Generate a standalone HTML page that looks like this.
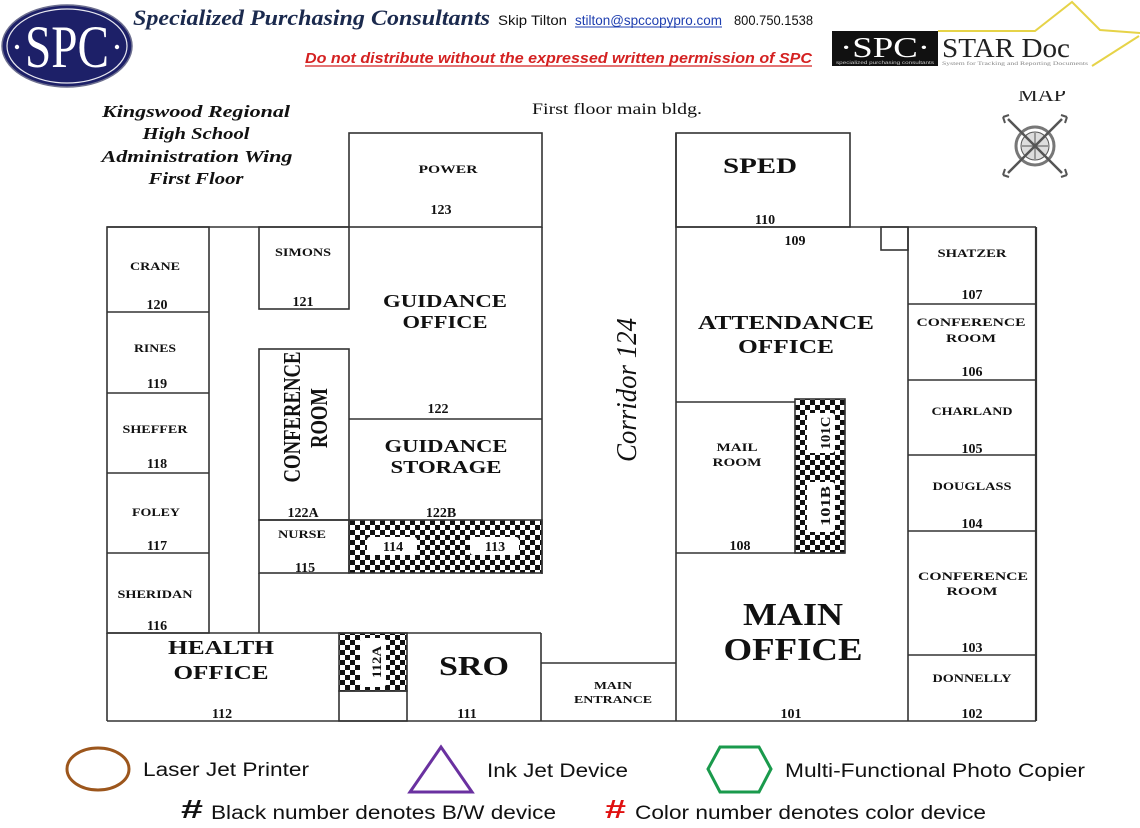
<!DOCTYPE html>
<html><head><meta charset="utf-8"><style>
html,body{margin:0;padding:0;background:#fff;}
svg{display:block;}
.b{font-family:"Liberation Serif",serif;font-weight:bold;fill:#111;text-anchor:middle;}
.s{font-family:"Liberation Sans",sans-serif;fill:#111;}
</style></head><body>
<svg width="1140" height="828" viewBox="0 0 1140 828" xmlns="http://www.w3.org/2000/svg">
<defs>
<pattern id="ck" width="10" height="10" patternUnits="userSpaceOnUse">
<rect width="10" height="10" fill="#fff"/><rect width="5" height="5" fill="#111"/><rect x="5" y="5" width="5" height="5" fill="#111"/>
</pattern>
</defs>

<!-- HEADER -->
<ellipse cx="67" cy="46" rx="65" ry="41" fill="#1d2068" stroke="#6d6f8f" stroke-width="1.5"/>
<ellipse cx="67" cy="46" rx="60" ry="37" fill="none" stroke="#e8e8f0" stroke-width="1.2"/>
<text x="67" y="67" font-family="Liberation Serif,serif" font-size="60" fill="#fff" text-anchor="middle" textLength="84" lengthAdjust="spacingAndGlyphs">SPC</text>
<circle cx="17" cy="47" r="2.2" fill="#fff"/><circle cx="117" cy="47" r="2.2" fill="#fff"/>

<text x="133" y="25" font-family="Liberation Serif,serif" font-style="italic" font-weight="bold" font-size="22" fill="#1b2a4e" textLength="357" lengthAdjust="spacingAndGlyphs">Specialized Purchasing Consultants</text>
<text x="498" y="25" class="s" font-size="14" textLength="69" lengthAdjust="spacingAndGlyphs">Skip Tilton</text>
<text x="575" y="25" class="s" font-size="14" style="fill:#1f3fb0" textLength="147" lengthAdjust="spacingAndGlyphs">stilton@spccopypro.com</text>
<line x1="575" y1="27" x2="722" y2="27" stroke="#1f3fb0" stroke-width="1"/>
<text x="734" y="25" class="s" font-size="14" textLength="79" lengthAdjust="spacingAndGlyphs">800.750.1538</text>
<text x="305" y="63" font-family="Liberation Sans,sans-serif" font-style="italic" font-weight="bold" font-size="15" fill="#d42121" textLength="507" lengthAdjust="spacingAndGlyphs">Do not distribute without the expressed written permission of SPC</text>
<line x1="305" y1="66" x2="812" y2="66" stroke="#d42121" stroke-width="1.2"/>

<!-- STAR Doc logo -->
<polyline points="938,31 1035,31 1072,2 1100,30 1140,33" fill="none" stroke="#e6d348" stroke-width="2"/>
<polyline points="1139,36 1092,66" fill="none" stroke="#e6d348" stroke-width="2"/>
<rect x="832" y="31" width="106" height="35" fill="#111"/>
<text x="885" y="57" font-family="Liberation Serif,serif" font-size="28" fill="#fff" text-anchor="middle" textLength="90" lengthAdjust="spacingAndGlyphs">·SPC·</text>
<text x="836" y="64" font-family="Liberation Sans,sans-serif" font-size="4.5" fill="#ccc" textLength="98" lengthAdjust="spacingAndGlyphs">specialized purchasing consultants</text>
<text x="942" y="57" font-family="Liberation Serif,serif" font-size="27" fill="#222" textLength="128" lengthAdjust="spacingAndGlyphs">STAR Doc</text>
<text x="942" y="65" font-family="Liberation Serif,serif" font-size="5" fill="#888" textLength="146" lengthAdjust="spacingAndGlyphs">System for Tracking and Reporting Documents</text>

<!-- Title block -->
<g font-family="Liberation Serif,serif" font-style="italic" font-weight="bold" font-size="17" fill="#111" text-anchor="middle">
<text x="196" y="117" textLength="188" lengthAdjust="spacingAndGlyphs">Kingswood Regional</text>
<text x="196" y="139" textLength="107" lengthAdjust="spacingAndGlyphs">High School</text>
<text x="197" y="162" textLength="191" lengthAdjust="spacingAndGlyphs">Administration Wing</text>
<text x="196" y="184" textLength="95" lengthAdjust="spacingAndGlyphs">First Floor</text>
</g>
<text x="532" y="114" font-family="Liberation Serif,serif" font-size="16" fill="#111" textLength="170" lengthAdjust="spacingAndGlyphs">First floor main bldg.</text>

<!-- MAP clipped -->
<svg x="1015" y="91" width="60" height="12" overflow="hidden">
<text x="3" y="10" font-family="Liberation Serif,serif" font-size="19" fill="#222" textLength="48" lengthAdjust="spacingAndGlyphs">MAP</text>
</svg>
<!-- compass -->
<g stroke="#555" fill="none">
<circle cx="1035" cy="146" r="19" stroke-width="3" stroke="#777"/>
<circle cx="1035" cy="146" r="14" stroke-width="1" fill="#ddd"/>
<line x1="1008" y1="119" x2="1062" y2="173" stroke-width="2.5"/>
<line x1="1062" y1="119" x2="1008" y2="173" stroke-width="2.5"/>
<line x1="1035" y1="133" x2="1035" y2="159" stroke-width="1"/>
<line x1="1022" y1="146" x2="1048" y2="146" stroke-width="1"/>
<path d="M1003,117 l6,-2 M1003,117 l2,6 M1067,117 l-6,-2 M1067,117 l-2,6 M1003,175 l6,2 M1003,175 l2,-6 M1067,175 l-6,2 M1067,175 l-2,-6" stroke-width="2"/>
</g>

<!-- FLOOR PLAN -->
<rect x="349" y="520" width="193" height="53" fill="url(#ck)"/>
<rect x="339" y="633" width="68" height="58" fill="url(#ck)"/>
<rect x="795" y="399" width="50" height="154" fill="url(#ck)"/>
<g fill="#fff">
<rect x="367" y="537" width="50" height="18" rx="3"/>
<rect x="470" y="537" width="49" height="18" rx="3"/>
<rect x="360" y="638" width="26" height="49" rx="3"/>
<rect x="807" y="413" width="28" height="40" rx="3"/>
<rect x="807" y="482" width="28" height="50" rx="3"/>
</g>

<g stroke="#333" stroke-width="1.6" fill="none">
<rect x="349" y="133" width="193" height="94"/>
<line x1="107" y1="227" x2="349" y2="227"/>
<rect x="107" y="227" width="102" height="406"/>
<line x1="107" y1="312" x2="209" y2="312"/>
<line x1="107" y1="393" x2="209" y2="393"/>
<line x1="107" y1="473" x2="209" y2="473"/>
<line x1="107" y1="553" x2="209" y2="553"/>
<rect x="259" y="227" width="90" height="82"/>
<line x1="542" y1="227" x2="542" y2="574"/>
<rect x="259" y="349" width="90" height="171"/>
<rect x="259" y="520" width="90" height="53"/>
<line x1="349" y1="419" x2="542" y2="419"/>
<rect x="349" y="520" width="193" height="53"/>
<line x1="259" y1="573" x2="259" y2="633"/>
<line x1="107" y1="633" x2="541" y2="633"/>
<line x1="107" y1="633" x2="107" y2="721"/>
<line x1="107" y1="721" x2="1036" y2="721"/>
<rect x="339" y="633" width="68" height="58"/>
<rect x="339" y="691" width="68" height="30"/>
<line x1="541" y1="633" x2="541" y2="721"/>
<line x1="541" y1="663" x2="676" y2="663"/>
<line x1="676" y1="133" x2="676" y2="721"/>
<rect x="676" y="133" width="174" height="94"/>
<line x1="676" y1="227" x2="1036" y2="227"/>
<rect x="881" y="227" width="27" height="23"/>
<line x1="908" y1="227" x2="908" y2="721"/>
<line x1="1036" y1="227" x2="1036" y2="721" stroke-width="2.2"/>
<line x1="908" y1="304" x2="1036" y2="304"/>
<line x1="908" y1="380" x2="1036" y2="380"/>
<line x1="908" y1="455" x2="1036" y2="455"/>
<line x1="908" y1="531" x2="1036" y2="531"/>
<line x1="908" y1="655" x2="1036" y2="655"/>
<line x1="676" y1="402" x2="795" y2="402"/>
<line x1="676" y1="553" x2="845" y2="553"/>
<rect x="795" y="399" width="50" height="154"/>
</g>

<!-- LABELS -->
<g class="b">
<text x="448" y="173" font-size="12" textLength="59" lengthAdjust="spacingAndGlyphs">POWER</text>
<text x="441" y="214" font-size="14">123</text>
<text x="760" y="173" font-size="22" textLength="74" lengthAdjust="spacingAndGlyphs">SPED</text>
<text x="765" y="224" font-size="14">110</text>
<text x="795" y="245" font-size="14">109</text>

<text x="155" y="270" font-size="12" textLength="50" lengthAdjust="spacingAndGlyphs">CRANE</text>
<text x="157" y="309" font-size="14">120</text>
<text x="155" y="352" font-size="12" textLength="42" lengthAdjust="spacingAndGlyphs">RINES</text>
<text x="157" y="388" font-size="14">119</text>
<text x="155" y="433" font-size="12" textLength="65" lengthAdjust="spacingAndGlyphs">SHEFFER</text>
<text x="157" y="468" font-size="14">118</text>
<text x="156" y="516" font-size="12" textLength="48" lengthAdjust="spacingAndGlyphs">FOLEY</text>
<text x="157" y="550" font-size="14">117</text>
<text x="155" y="598" font-size="12" textLength="75" lengthAdjust="spacingAndGlyphs">SHERIDAN</text>
<text x="157" y="630" font-size="14">116</text>

<text x="303" y="256" font-size="12" textLength="56" lengthAdjust="spacingAndGlyphs">SIMONS</text>
<text x="303" y="306" font-size="14">121</text>
<text x="445" y="307" font-size="18" textLength="124" lengthAdjust="spacingAndGlyphs">GUIDANCE</text>
<text x="445" y="328" font-size="18" textLength="85" lengthAdjust="spacingAndGlyphs">OFFICE</text>
<text x="438" y="413" font-size="14">122</text>
<text x="446" y="452" font-size="18" textLength="123" lengthAdjust="spacingAndGlyphs">GUIDANCE</text>
<text x="446" y="473" font-size="18" textLength="111" lengthAdjust="spacingAndGlyphs">STORAGE</text>
<text transform="translate(300,417) rotate(-90)" font-size="24" textLength="131" lengthAdjust="spacingAndGlyphs">CONFERENCE</text>
<text transform="translate(327,418) rotate(-90)" font-size="24" textLength="60" lengthAdjust="spacingAndGlyphs">ROOM</text>
<text x="303" y="517" font-size="14">122A</text>
<text x="441" y="517" font-size="14">122B</text>
<text x="302" y="538" font-size="12" textLength="48" lengthAdjust="spacingAndGlyphs">NURSE</text>
<text x="305" y="572" font-size="14">115</text>
<text x="393" y="551" font-size="14">114</text>
<text x="495" y="551" font-size="14">113</text>

<text x="221" y="654" font-size="20" textLength="106" lengthAdjust="spacingAndGlyphs">HEALTH</text>
<text x="221" y="679" font-size="20" textLength="95" lengthAdjust="spacingAndGlyphs">OFFICE</text>
<text x="222" y="718" font-size="14">112</text>
<text transform="translate(381,662) rotate(-90)" font-size="13" textLength="32" lengthAdjust="spacingAndGlyphs">112A</text>
<text x="474" y="675" font-size="27" textLength="70" lengthAdjust="spacingAndGlyphs">SRO</text>
<text x="467" y="718" font-size="14">111</text>
<text x="613" y="689" font-size="11" textLength="38" lengthAdjust="spacingAndGlyphs">MAIN</text>
<text x="613" y="703" font-size="11" textLength="78" lengthAdjust="spacingAndGlyphs">ENTRANCE</text>

<text x="786" y="329" font-size="20" textLength="176" lengthAdjust="spacingAndGlyphs">ATTENDANCE</text>
<text x="786" y="353" font-size="20" textLength="96" lengthAdjust="spacingAndGlyphs">OFFICE</text>
<text x="737" y="451" font-size="12" textLength="41" lengthAdjust="spacingAndGlyphs">MAIL</text>
<text x="737" y="466" font-size="12" textLength="49" lengthAdjust="spacingAndGlyphs">ROOM</text>
<text x="740" y="550" font-size="14">108</text>
<text transform="translate(830,433) rotate(-90)" font-size="14" textLength="33" lengthAdjust="spacingAndGlyphs">101C</text>
<text transform="translate(830,506) rotate(-90)" font-size="14" textLength="40" lengthAdjust="spacingAndGlyphs">101B</text>
<text x="793" y="625" font-size="32" textLength="100" lengthAdjust="spacingAndGlyphs">MAIN</text>
<text x="793" y="660" font-size="32" textLength="139" lengthAdjust="spacingAndGlyphs">OFFICE</text>
<text x="791" y="718" font-size="14">101</text>

<text x="972" y="257" font-size="12" textLength="69" lengthAdjust="spacingAndGlyphs">SHATZER</text>
<text x="972" y="299" font-size="14">107</text>
<text x="971" y="326" font-size="12" textLength="109" lengthAdjust="spacingAndGlyphs">CONFERENCE</text>
<text x="971" y="342" font-size="12" textLength="50" lengthAdjust="spacingAndGlyphs">ROOM</text>
<text x="972" y="376" font-size="14">106</text>
<text x="972" y="415" font-size="12" textLength="81" lengthAdjust="spacingAndGlyphs">CHARLAND</text>
<text x="972" y="453" font-size="14">105</text>
<text x="972" y="490" font-size="12" textLength="79" lengthAdjust="spacingAndGlyphs">DOUGLASS</text>
<text x="972" y="528" font-size="14">104</text>
<text x="973" y="580" font-size="12" textLength="110" lengthAdjust="spacingAndGlyphs">CONFERENCE</text>
<text x="972" y="595" font-size="12" textLength="51" lengthAdjust="spacingAndGlyphs">ROOM</text>
<text x="972" y="652" font-size="14">103</text>
<text x="972" y="682" font-size="12" textLength="79" lengthAdjust="spacingAndGlyphs">DONNELLY</text>
<text x="972" y="718" font-size="14">102</text>
</g>
<text transform="translate(636,390) rotate(-90)" font-family="Liberation Serif,serif" font-style="italic" font-size="28" fill="#111" text-anchor="middle" textLength="144" lengthAdjust="spacingAndGlyphs">Corridor 124</text>

<!-- LEGEND -->
<ellipse cx="98" cy="769" rx="31" ry="21" fill="none" stroke="#9c561c" stroke-width="3"/>
<text x="143" y="776" class="s" font-size="19" textLength="166" lengthAdjust="spacingAndGlyphs">Laser Jet Printer</text>
<polygon points="441,747 410,792 472,792" fill="none" stroke="#6a31a0" stroke-width="3"/>
<text x="487" y="777" class="s" font-size="19" textLength="141" lengthAdjust="spacingAndGlyphs">Ink Jet Device</text>
<polygon points="720,747 759,747 771,769 759,792 720,792 708,769" fill="none" stroke="#1a9a4c" stroke-width="3"/>
<text x="785" y="777" class="s" font-size="19" textLength="300" lengthAdjust="spacingAndGlyphs">Multi-Functional Photo Copier</text>
<text x="181" y="818" class="s" font-size="26" font-weight="bold" textLength="22" lengthAdjust="spacingAndGlyphs">#</text>
<text x="211" y="819" class="s" font-size="19" textLength="345" lengthAdjust="spacingAndGlyphs">Black number denotes B/W device</text>
<text x="605" y="818" font-family="Liberation Sans,sans-serif" font-size="26" font-weight="bold" fill="#e01010" textLength="21" lengthAdjust="spacingAndGlyphs">#</text>
<text x="635" y="819" class="s" font-size="19" textLength="351" lengthAdjust="spacingAndGlyphs">Color number denotes color device</text>
</svg>
</body></html>
